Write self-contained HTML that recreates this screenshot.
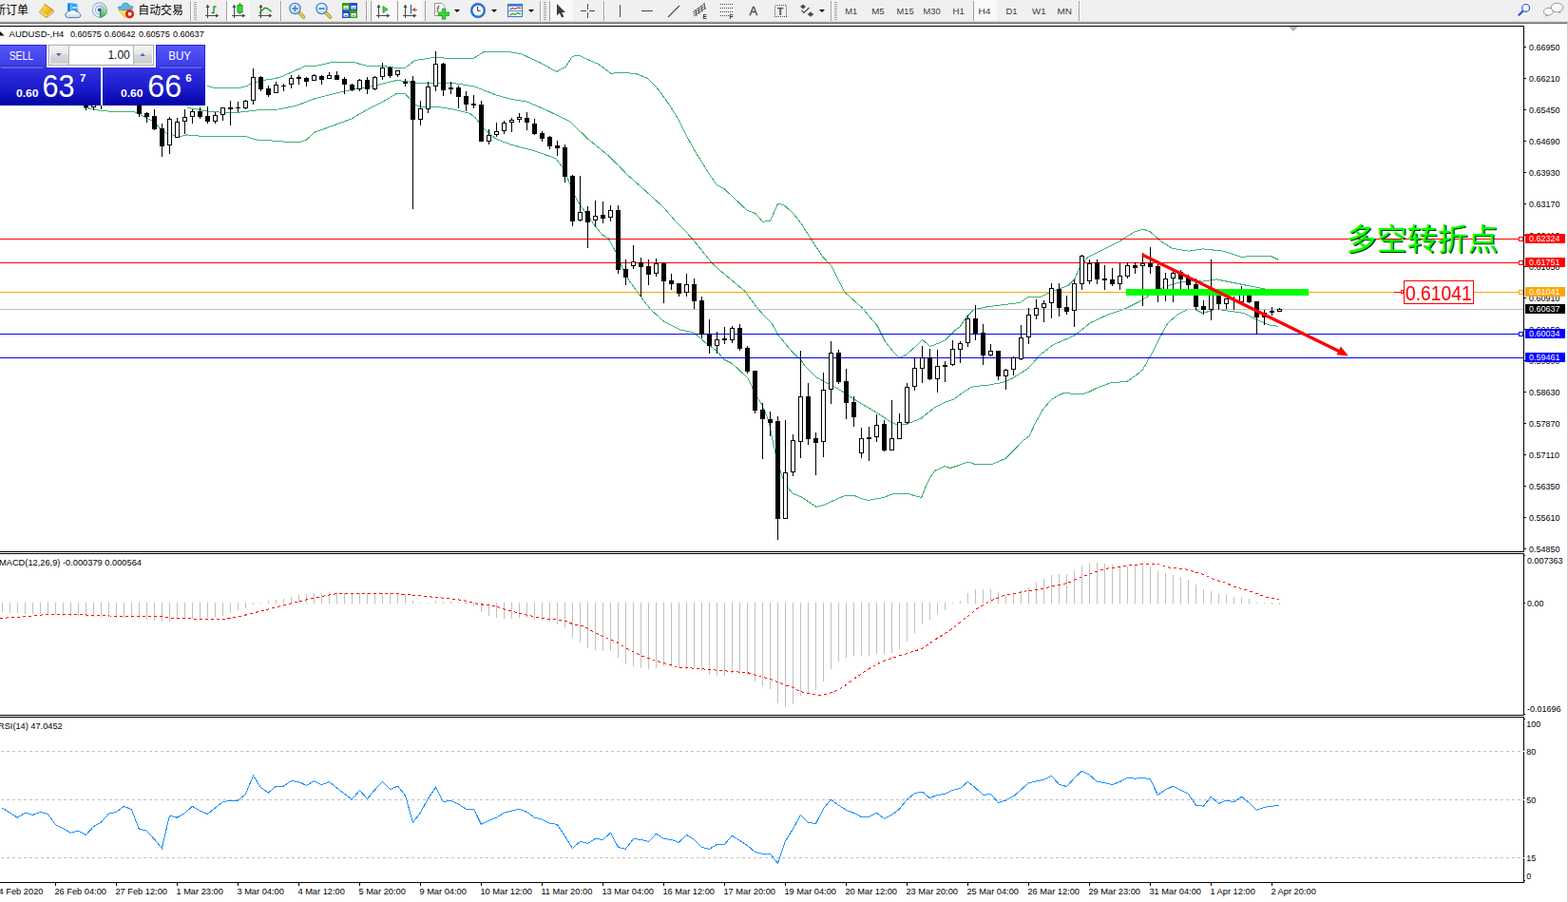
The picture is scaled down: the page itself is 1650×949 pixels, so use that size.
<!DOCTYPE html><html><head><meta charset="utf-8"><title>AUDUSD H4</title>
<style>html,body{margin:0;padding:0;background:#fff;}body{width:1650px;height:949px;overflow:hidden;font-family:"Liberation Sans", sans-serif;}svg{display:block;position:absolute;left:0;top:0}text{font-family:"Liberation Sans", sans-serif;}</style></head><body>
<svg width="1650" height="949" viewBox="0 0 1650 949">
<defs>
<linearGradient id="gSell" x1="0" y1="0" x2="0" y2="1"><stop offset="0" stop-color="#5656fb"/><stop offset="1" stop-color="#3a3ae6"/></linearGradient>
<linearGradient id="gPrice" x1="0" y1="0" x2="0" y2="1"><stop offset="0" stop-color="#3232e2"/><stop offset="0.55" stop-color="#1c1ccc"/><stop offset="1" stop-color="#0202a6"/></linearGradient>
<linearGradient id="gBtn" x1="0" y1="0" x2="0" y2="1"><stop offset="0" stop-color="#f4f4f4"/><stop offset="0.45" stop-color="#e6e6e6"/><stop offset="0.5" stop-color="#d6d6d6"/><stop offset="1" stop-color="#cdcdcd"/></linearGradient>
</defs>
<rect x="0" y="0" width="1650" height="949" fill="#ffffff"/>
<g>
<rect x="0" y="0" width="1650" height="22" fill="#f0f0f0"/>
<rect x="0" y="22" width="1650" height="1" fill="#dcdcdc"/><rect x="0" y="23" width="1650" height="1" fill="#a0a0a0"/><rect x="0" y="24" width="1650" height="1" fill="#6e6e6e"/>
<text x="-6" y="14.6" font-size="12px" fill="#000" style="font-family:'Liberation Sans','Noto Sans CJK SC',sans-serif" textLength="36" lengthAdjust="spacingAndGlyphs">新订单</text>
<text x="145.3" y="14.6" font-size="12px" fill="#000" style="font-family:'Liberation Sans','Noto Sans CJK SC',sans-serif" textLength="47.5" lengthAdjust="spacingAndGlyphs">自动交易</text>
<defs><linearGradient id="gGold" x1="0" y1="0" x2="1" y2="1"><stop offset="0" stop-color="#ffe566"/><stop offset="0.5" stop-color="#f2c21c"/><stop offset="1" stop-color="#dea414"/></linearGradient><linearGradient id="gBlue" x1="0" y1="0" x2="0" y2="1"><stop offset="0" stop-color="#5fb4ff"/><stop offset="1" stop-color="#1668d8"/></linearGradient><radialGradient id="gLens" cx="0.4" cy="0.35" r="0.7"><stop offset="0" stop-color="#f4fbff"/><stop offset="1" stop-color="#bcdcf4"/></radialGradient></defs>
<polygon points="47.2,3.9 56.3,10.5 56.9,13 48.8,18.9 40.9,13 45.6,7" fill="#c08414"/><polygon points="47.3,4.9 55.5,10.9 49.7,16.2 42.7,11.5" fill="url(#gGold)"/><polygon points="41.6,12.7 42.7,11.5 49.7,16.2 48.8,18" fill="#f6dc84"/><polygon points="49.7,16.2 55.5,10.9 56.2,12.7 49.5,18" fill="#e6d49a"/>
<polygon points="71.3,3.6 73.4,3.1 81.2,4.1 81.8,12 71.3,12" fill="#2aa8ff"/><polygon points="71.3,3.6 74.5,4.6 74.5,12 71.3,12" fill="#0a8cf0"/><rect x="74.4" y="4.6" width="0.7" height="7.4" fill="#e8f6ff"/><rect x="76" y="7.3" width="4.8" height="1.5" fill="#e4f4ff"/>
<defs><linearGradient id="gCloud" x1="0" y1="0" x2="0" y2="1"><stop offset="0.3" stop-color="#ffffff"/><stop offset="1" stop-color="#c4d0e6"/></linearGradient></defs><path d="M71.6,18.6 a2.9,2.9 0 0 1 -0.6,-5.7 a2.6,2.6 0 0 1 3.4,-1.3 a3.2,3.2 0 0 1 5.6,0.6 a2.6,2.6 0 0 1 3.4,1.8 a2.4,2.4 0 0 1 -0.8,4.6 z" fill="url(#gCloud)" stroke="#4a6cac" stroke-width="0.9"/>
<g fill="none" stroke-width="1.1"><circle cx="104.8" cy="10.5" r="7.6" stroke="#7f9ee0" opacity="0.75"/><circle cx="104.8" cy="10.5" r="4.4" stroke="#7f9ee0" opacity="0.8"/></g>
<defs><linearGradient id="gSig" x1="0" y1="0" x2="0" y2="1"><stop offset="0" stop-color="#b8e0b8" stop-opacity="0.25"/><stop offset="1" stop-color="#2f9e3a" stop-opacity="0.95"/></linearGradient></defs><path d="M105,10.5 L105,2.9 A7.7,7.7 0 0 1 105.6,18.6 Z" fill="url(#gSig)"/><circle cx="104.8" cy="10.5" r="1.9" fill="#2858d0"/><line x1="105.6" y1="11.2" x2="105.6" y2="18.8" stroke="#1fa01f" stroke-width="1.3"/>
<polygon points="124.4,10.2 139.6,9.6 132,18.9" fill="#f8e264" stroke="#d2a31c" stroke-width="0.7"/><path d="M124,8.2 q0.6,-1.9 3.8,-1.2 q0.6,-3.9 4.3,-3.9 q3.6,0 4.4,3.6 q3,-0.9 3.6,0.8 q-1.2,2.9 -8,3.1 q-6.6,0.2 -8.1,-2.4z" fill="#62b4e4" stroke="#2a86b8" stroke-width="0.7"/>
<circle cx="136.5" cy="14.8" r="4.1" fill="#e42408" stroke="#b01a06" stroke-width="0.7"/><rect x="134.9" y="13.1" width="3.3" height="3.3" fill="#fff"/>
<rect x="200" y="1" width="1" height="21" fill="#a0a0a0"/><rect x="201" y="1" width="1" height="21" fill="#ffffff"/>
<rect x="204" y="2" width="3" height="1" fill="#a8a8a8"/><rect x="204" y="4" width="3" height="1" fill="#a8a8a8"/><rect x="204" y="6" width="3" height="1" fill="#a8a8a8"/><rect x="204" y="8" width="3" height="1" fill="#a8a8a8"/><rect x="204" y="10" width="3" height="1" fill="#a8a8a8"/><rect x="204" y="12" width="3" height="1" fill="#a8a8a8"/><rect x="204" y="14" width="3" height="1" fill="#a8a8a8"/><rect x="204" y="16" width="3" height="1" fill="#a8a8a8"/><rect x="204" y="18" width="3" height="1" fill="#a8a8a8"/><rect x="204" y="20" width="3" height="1" fill="#a8a8a8"/>
<g stroke="#4a4a4a" stroke-width="1" fill="#4a4a4a" shape-rendering="crispEdges"><line x1="218.5" y1="6" x2="218.5" y2="19"/><line x1="216.0" y1="16.5" x2="229.0" y2="16.5"/></g><polygon points="218.5,4.5 216.5,8 220.5,8" fill="#4a4a4a"/><polygon points="230.5,16.5 227.0,14.5 227.0,18.5" fill="#4a4a4a"/>
<g stroke="#149414" stroke-width="1.4" fill="none"><line x1="225" y1="6.5" x2="225" y2="14"/><line x1="225" y1="7" x2="227.5" y2="7"/><line x1="222.5" y1="13.5" x2="225" y2="13.5"/></g>
<rect x="239" y="0" width="24" height="22" fill="#f9f9f9"/><rect x="238" y="1" width="1" height="21" fill="#a0a0a0"/>
<g stroke="#4a4a4a" stroke-width="1" fill="#4a4a4a" shape-rendering="crispEdges"><line x1="246.5" y1="6" x2="246.5" y2="19"/><line x1="244.0" y1="16.5" x2="257.0" y2="16.5"/></g><polygon points="246.5,4.5 244.5,8 248.5,8" fill="#4a4a4a"/><polygon points="258.5,16.5 255.0,14.5 255.0,18.5" fill="#4a4a4a"/>
<line x1="252.5" y1="3" x2="252.5" y2="15" stroke="#0f8f0f" stroke-width="1.2"/><rect x="250" y="5.5" width="5" height="7.5" fill="#3be03b" stroke="#0f8f0f" stroke-width="0.9"/>
<g stroke="#4a4a4a" stroke-width="1" fill="#4a4a4a" shape-rendering="crispEdges"><line x1="274.5" y1="6" x2="274.5" y2="19"/><line x1="272.0" y1="16.5" x2="285.0" y2="16.5"/></g><polygon points="274.5,4.5 272.5,8 276.5,8" fill="#4a4a4a"/><polygon points="286.5,16.5 283.0,14.5 283.0,18.5" fill="#4a4a4a"/>
<polyline points="273,14 276,10.5 279,8.3 281.5,8.8 285.5,12.2" fill="none" stroke="#149414" stroke-width="1.3"/>
<rect x="295" y="1" width="1" height="21" fill="#a0a0a0"/><rect x="296" y="1" width="1" height="21" fill="#ffffff"/>
<line x1="315.0" y1="13.5" x2="319.5" y2="18" stroke="#a88418" stroke-width="3.6" stroke-linecap="round"/><line x1="315.0" y1="13.5" x2="319.5" y2="18" stroke="#ecd050" stroke-width="2" stroke-linecap="round"/>
<circle cx="310.5" cy="9" r="5.6" fill="url(#gLens)" stroke="#3f86d2" stroke-width="1.3"/>
<rect x="307.3" y="8.2" width="6.4" height="1.7" fill="#4f80b4"/>
<rect x="309.6" y="5.8" width="1.7" height="6.4" fill="#4f80b4"/>
<line x1="343.0" y1="13.5" x2="347.5" y2="18" stroke="#a88418" stroke-width="3.6" stroke-linecap="round"/><line x1="343.0" y1="13.5" x2="347.5" y2="18" stroke="#ecd050" stroke-width="2" stroke-linecap="round"/>
<circle cx="338.5" cy="9" r="5.6" fill="url(#gLens)" stroke="#3f86d2" stroke-width="1.3"/>
<rect x="335.3" y="8.2" width="6.4" height="1.7" fill="#4f80b4"/>
<rect x="360" y="3" width="8" height="8" fill="#3c9e1e"/><rect x="361.5" y="6.0" width="5" height="3.6" fill="#f2f6ff"/><rect x="362.7" y="7.9" width="2.6" height="0.9" fill="#3c9e1e"/>
<rect x="368" y="3" width="8" height="8" fill="#1f4fd0"/><rect x="369.5" y="6.0" width="5" height="3.6" fill="#f2f6ff"/><rect x="370.7" y="7.9" width="2.6" height="0.9" fill="#1f4fd0"/>
<rect x="360" y="11" width="8" height="8" fill="#1f4fd0"/><rect x="361.5" y="14.0" width="5" height="3.6" fill="#f2f6ff"/><rect x="362.7" y="15.9" width="2.6" height="0.9" fill="#1f4fd0"/>
<rect x="368" y="11" width="8" height="8" fill="#3c9e1e"/><rect x="369.5" y="14.0" width="5" height="3.6" fill="#f2f6ff"/><rect x="370.7" y="15.9" width="2.6" height="0.9" fill="#3c9e1e"/>
<rect x="385" y="1" width="1" height="21" fill="#a0a0a0"/><rect x="386" y="1" width="1" height="21" fill="#ffffff"/>
<rect x="391" y="0" width="26" height="22" fill="#f9f9f9"/><rect x="390" y="1" width="1" height="21" fill="#a0a0a0"/>
<rect x="419" y="0" width="25" height="22" fill="#f9f9f9"/><rect x="418" y="1" width="1" height="21" fill="#a0a0a0"/>
<g stroke="#4a4a4a" stroke-width="1" fill="#4a4a4a" shape-rendering="crispEdges"><line x1="398.5" y1="6" x2="398.5" y2="19"/><line x1="396.0" y1="16.5" x2="409.0" y2="16.5"/></g><polygon points="398.5,4.5 396.5,8 400.5,8" fill="#4a4a4a"/><polygon points="410.5,16.5 407.0,14.5 407.0,18.5" fill="#4a4a4a"/>
<polygon points="403,6.5 403,13.5 408,10" fill="#3bd83b" stroke="#149414" stroke-width="0.7"/>
<g stroke="#4a4a4a" stroke-width="1" fill="#4a4a4a" shape-rendering="crispEdges"><line x1="426.5" y1="6" x2="426.5" y2="19"/><line x1="424.0" y1="16.5" x2="437.0" y2="16.5"/></g><polygon points="426.5,4.5 424.5,8 428.5,8" fill="#4a4a4a"/><polygon points="438.5,16.5 435.0,14.5 435.0,18.5" fill="#4a4a4a"/>
<line x1="432.5" y1="5" x2="432.5" y2="14.5" stroke="#1a6aa6" stroke-width="1.3"/><polygon points="433.5,10.3 437,8 437,12.6" fill="#e0481a"/><line x1="436" y1="10.3" x2="439" y2="10.3" stroke="#e0481a" stroke-width="1.1"/>
<rect x="447" y="1" width="1" height="21" fill="#a0a0a0"/><rect x="448" y="1" width="1" height="21" fill="#ffffff"/>
<path d="M457.5,3.5 h7.5 l3,3 v10 h-10.5z" fill="#fdfdfd" stroke="#8a8a8a" stroke-width="0.9"/><text x="459.2" y="12.8" font-size="9px" font-family="Liberation Serif, serif" font-style="italic" fill="#222">f</text>
<path d="M465.2,9.3 h3.6 v3.6 h3.8 v3.6 h-3.8 v3.7 h-3.6 v-3.7 h-3.9 v-3.6 h3.9z" fill="#36d836" stroke="#12921a" stroke-width="0.7"/>
<polygon points="478,10 484,10 481.0,13" fill="#000"/>
<circle cx="503" cy="11" r="6.7" fill="#f4f8fd" stroke="#1f6fdc" stroke-width="2.2"/><circle cx="503" cy="11" r="7.8" fill="none" stroke="#1a58b4" stroke-width="0.4"/><polyline points="502.6,7 502.6,11.3 505.6,11.3" fill="none" stroke="#333" stroke-width="1"/>
<polygon points="517,10 523,10 520.0,13" fill="#000"/>
<rect x="534.5" y="4.5" width="15" height="13" fill="#f6faff" stroke="#3a7ad0" stroke-width="1.1"/><rect x="534.5" y="4.5" width="15" height="2.2" fill="#3a7ad0"/><line x1="535" y1="11.5" x2="549" y2="11.5" stroke="#3a7ad0" stroke-width="0.8"/>
<polyline points="536.5,10 539.5,8.6 542,9.4 545,8 548,8.6" fill="none" stroke="#b0301a" stroke-width="1.1"/><polyline points="536.5,16 539.5,14.4 542,15.4 545,13.4 548,15" fill="none" stroke="#1f9a1f" stroke-width="1.1"/>
<polygon points="556,10 562,10 559.0,13" fill="#000"/>
<rect x="568" y="1" width="1" height="21" fill="#a0a0a0"/><rect x="569" y="1" width="1" height="21" fill="#ffffff"/>
<rect x="572" y="2" width="3" height="1" fill="#a8a8a8"/><rect x="572" y="4" width="3" height="1" fill="#a8a8a8"/><rect x="572" y="6" width="3" height="1" fill="#a8a8a8"/><rect x="572" y="8" width="3" height="1" fill="#a8a8a8"/><rect x="572" y="10" width="3" height="1" fill="#a8a8a8"/><rect x="572" y="12" width="3" height="1" fill="#a8a8a8"/><rect x="572" y="14" width="3" height="1" fill="#a8a8a8"/><rect x="572" y="16" width="3" height="1" fill="#a8a8a8"/><rect x="572" y="18" width="3" height="1" fill="#a8a8a8"/><rect x="572" y="20" width="3" height="1" fill="#a8a8a8"/>
<rect x="579" y="0" width="24" height="22" fill="#f9f9f9"/><rect x="578" y="1" width="1" height="21" fill="#a0a0a0"/>
<polygon points="586,4 586,16.3 588.8,13.8 591.2,18.6 593.4,17.6 591.1,12.9 595,12.9" fill="#3c3c3c"/>
<g stroke="#4a4a4a" stroke-width="1" shape-rendering="crispEdges"><line x1="618.5" y1="4" x2="618.5" y2="10"/><line x1="618.5" y1="13" x2="618.5" y2="19"/><line x1="611" y1="11.5" x2="617" y2="11.5"/><line x1="620" y1="11.5" x2="626" y2="11.5"/></g>
<rect x="635" y="1" width="1" height="21" fill="#a0a0a0"/><rect x="636" y="1" width="1" height="21" fill="#ffffff"/>
<g stroke="#4a4a4a" stroke-width="1.1"><line x1="652.5" y1="5" x2="652.5" y2="18" shape-rendering="crispEdges"/><line x1="675" y1="11.5" x2="687" y2="11.5" shape-rendering="crispEdges"/><line x1="703" y1="18" x2="715" y2="6"/></g>
<g stroke="#4a4a4a" stroke-width="0.9"><line x1="729" y1="13" x2="741" y2="4"/><line x1="730" y1="17" x2="743" y2="8"/><line x1="729.5" y1="15" x2="742" y2="6"/><line x1="732" y1="10" x2="733" y2="17"/><line x1="735" y1="8" x2="736" y2="15"/><line x1="738" y1="6" x2="739" y2="12.5"/><line x1="741" y1="3" x2="742" y2="10"/></g>
<text x="739.6" y="20" font-size="6.5px" font-weight="bold" fill="#333">E</text>
<g stroke="#4a4a4a" stroke-width="1" stroke-dasharray="1,1" shape-rendering="crispEdges"><line x1="758" y1="4.5" x2="771" y2="4.5"/><line x1="758" y1="8.5" x2="771" y2="8.5"/><line x1="758" y1="12.5" x2="771" y2="12.5"/><line x1="758" y1="16.5" x2="767" y2="16.5"/></g>
<text x="767.6" y="20" font-size="6.5px" font-weight="bold" fill="#333">F</text>
<text x="788.6" y="16" font-size="13px" fill="#4a4a4a" stroke="#4a4a4a" stroke-width="0.35" textLength="8.6" lengthAdjust="spacingAndGlyphs">A</text>
<rect x="815.5" y="5.5" width="12" height="12" fill="none" stroke="#4a4a4a" stroke-width="1" stroke-dasharray="1,1" shape-rendering="crispEdges"/><text x="817.7" y="15.6" font-size="11px" font-weight="bold" fill="#505050">T</text>
<polygon points="845,4.5 848,7 845,9.5 842,7" fill="#4a4a4a"/><polygon points="853,12.5 856.3,15 853,17.8 849.7,15" fill="#4a4a4a"/><polyline points="843.5,11 846,13.5 851.5,8" fill="none" stroke="#4a4a4a" stroke-width="1.2"/>
<polygon points="862,10 868,10 865.0,13" fill="#000"/>
<rect x="874" y="1" width="1" height="21" fill="#a0a0a0"/><rect x="875" y="1" width="1" height="21" fill="#ffffff"/>
<rect x="878" y="2" width="3" height="1" fill="#a8a8a8"/><rect x="878" y="4" width="3" height="1" fill="#a8a8a8"/><rect x="878" y="6" width="3" height="1" fill="#a8a8a8"/><rect x="878" y="8" width="3" height="1" fill="#a8a8a8"/><rect x="878" y="10" width="3" height="1" fill="#a8a8a8"/><rect x="878" y="12" width="3" height="1" fill="#a8a8a8"/><rect x="878" y="14" width="3" height="1" fill="#a8a8a8"/><rect x="878" y="16" width="3" height="1" fill="#a8a8a8"/><rect x="878" y="18" width="3" height="1" fill="#a8a8a8"/><rect x="878" y="20" width="3" height="1" fill="#a8a8a8"/>
<rect x="1025" y="0" width="24" height="22" fill="#f9f9f9"/><rect x="1024" y="1" width="1" height="21" fill="#a0a0a0"/>
<text x="889.2" y="15" font-size="9.6px" fill="#3c3c3c" textLength="13.0" lengthAdjust="spacingAndGlyphs">M1</text>
<text x="917.3" y="15" font-size="9.6px" fill="#3c3c3c" textLength="13.4" lengthAdjust="spacingAndGlyphs">M5</text>
<text x="943.5" y="15" font-size="9.6px" fill="#3c3c3c" textLength="18.1" lengthAdjust="spacingAndGlyphs">M15</text>
<text x="971.5" y="15" font-size="9.6px" fill="#3c3c3c" textLength="18.1" lengthAdjust="spacingAndGlyphs">M30</text>
<text x="1002.4" y="15" font-size="9.6px" fill="#3c3c3c" textLength="12.4" lengthAdjust="spacingAndGlyphs">H1</text>
<text x="1029.4" y="15" font-size="9.6px" fill="#3c3c3c" textLength="13.0" lengthAdjust="spacingAndGlyphs">H4</text>
<text x="1058.5" y="15" font-size="9.6px" fill="#3c3c3c" textLength="12.1" lengthAdjust="spacingAndGlyphs">D1</text>
<text x="1086.0" y="15" font-size="9.6px" fill="#3c3c3c" textLength="14.6" lengthAdjust="spacingAndGlyphs">W1</text>
<text x="1112.5" y="15" font-size="9.6px" fill="#3c3c3c" textLength="15.5" lengthAdjust="spacingAndGlyphs">MN</text>
<rect x="1135" y="1" width="1" height="21" fill="#a0a0a0"/><rect x="1136" y="1" width="1" height="21" fill="#ffffff"/>
<line x1="1602.6" y1="11.6" x2="1598.4" y2="15.8" stroke="#2a5ad0" stroke-width="2.2" stroke-linecap="round"/><circle cx="1605.6" cy="8.4" r="3.9" fill="#f6f8ff" stroke="#2a5ad0" stroke-width="1.2"/>
<ellipse cx="1638.5" cy="8" rx="6.4" ry="4.8" fill="#f7f7fa" stroke="#8e8e8e" stroke-width="0.9"/><polygon points="1639.5,12 1642,14.5 1642,12" fill="#8a8a8a"/>
<ellipse cx="1629.3" cy="12.3" rx="4.9" ry="3.9" fill="#f7f7fa" stroke="#8e8e8e" stroke-width="0.9"/><polygon points="1626.5,15.5 1626.3,17.8 1629,15.8" fill="#8a8a8a"/>
</g>
<g shape-rendering="crispEdges">
<rect x="0" y="27" width="1604" height="1" fill="#000"/>
<rect x="1603" y="27" width="1" height="902" fill="#000"/>
<rect x="0" y="580" width="1604" height="1" fill="#000"/>
<rect x="1603" y="581" width="1" height="1" fill="#fff"/>
<rect x="0" y="582" width="1604" height="1" fill="#000"/>
<rect x="0" y="752" width="1604" height="1" fill="#000"/>
<rect x="1603" y="753" width="1" height="1" fill="#fff"/>
<rect x="0" y="754" width="1604" height="1" fill="#000"/>
<rect x="0" y="928" width="1604" height="1" fill="#000"/>
<rect x="1649" y="24" width="1" height="925" fill="#c9d2dc"/>
<rect x="1604" y="49" width="2" height="1" fill="#000"/>
<rect x="1604" y="82" width="2" height="1" fill="#000"/>
<rect x="1604" y="115" width="2" height="1" fill="#000"/>
<rect x="1604" y="148" width="2" height="1" fill="#000"/>
<rect x="1604" y="181" width="2" height="1" fill="#000"/>
<rect x="1604" y="214" width="2" height="1" fill="#000"/>
<rect x="1604" y="247" width="2" height="1" fill="#000"/>
<rect x="1604" y="280" width="2" height="1" fill="#000"/>
<rect x="1604" y="313" width="2" height="1" fill="#000"/>
<rect x="1604" y="346" width="2" height="1" fill="#000"/>
<rect x="1604" y="379" width="2" height="1" fill="#000"/>
<rect x="1604" y="412" width="2" height="1" fill="#000"/>
<rect x="1604" y="445" width="2" height="1" fill="#000"/>
<rect x="1604" y="478" width="2" height="1" fill="#000"/>
<rect x="1604" y="511" width="2" height="1" fill="#000"/>
<rect x="1604" y="544" width="2" height="1" fill="#000"/>
<rect x="1604" y="577" width="2" height="1" fill="#000"/>
<rect x="1604" y="584" width="1" height="1" fill="#000"/>
<rect x="1604" y="634" width="1" height="1" fill="#000"/>
<rect x="1604" y="751" width="1" height="1" fill="#000"/>
<rect x="1604" y="756" width="1" height="1" fill="#000"/>
<rect x="1604" y="926" width="1" height="1" fill="#000"/>
<rect x="58" y="929" width="1" height="3" fill="#000"/>
<rect x="122" y="929" width="1" height="3" fill="#000"/>
<rect x="186" y="929" width="1" height="3" fill="#000"/>
<rect x="250" y="929" width="1" height="3" fill="#000"/>
<rect x="314" y="929" width="1" height="3" fill="#000"/>
<rect x="378" y="929" width="1" height="3" fill="#000"/>
<rect x="442" y="929" width="1" height="3" fill="#000"/>
<rect x="506" y="929" width="1" height="3" fill="#000"/>
<rect x="570" y="929" width="1" height="3" fill="#000"/>
<rect x="634" y="929" width="1" height="3" fill="#000"/>
<rect x="698" y="929" width="1" height="3" fill="#000"/>
<rect x="762" y="929" width="1" height="3" fill="#000"/>
<rect x="826" y="929" width="1" height="3" fill="#000"/>
<rect x="890" y="929" width="1" height="3" fill="#000"/>
<rect x="954" y="929" width="1" height="3" fill="#000"/>
<rect x="1018" y="929" width="1" height="3" fill="#000"/>
<rect x="1082" y="929" width="1" height="3" fill="#000"/>
<rect x="1146" y="929" width="1" height="3" fill="#000"/>
<rect x="1210" y="929" width="1" height="3" fill="#000"/>
<rect x="1274" y="929" width="1" height="3" fill="#000"/>
<rect x="1338" y="929" width="1" height="3" fill="#000"/>
</g>
<g fill="none" stroke="#3cb371" stroke-width="1" shape-rendering="crispEdges">
<polyline points="218.0,90.4 226.4,92.6 253.0,92.4 260.7,90.1 264.6,87.5 277.3,84.4 290.0,82.5 297.8,80.0 322.0,69.2 331.0,69.8 350.0,65.4 371.6,65.4 385.6,69.2 402.0,69.4 417.5,71.5 426.4,71.5 436.6,63.5 458.0,60.3 471.0,61.3 498.4,61.4 508.5,55.0 513.6,54.1 534.0,54.3 548.5,56.7 568.9,66.2 580.5,72.7 585.9,75.3 595.0,70.5 602.4,59.2 609.6,58.2 618.4,62.5 630.0,67.6 643.0,77.4 651.8,76.1 669.3,77.5 681.0,82.2 692.5,93.8 704.2,110.0 712.7,123.6 720.0,138.0 730.0,157.0 741.3,175.0 745.6,182.3 754.4,194.6 761.6,198.3 771.8,207.7 786.4,221.5 795.0,224.5 802.4,233.2 810.4,232.5 818.5,214.5 824.7,215.5 835.0,224.8 843.0,235.0 853.4,251.5 865.7,270.0 875.0,280.3 888.4,307.0 906.8,323.4 923.3,343.0 931.5,359.4 939.7,369.6 946.3,376.2 953.0,373.8 962.3,365.5 970.5,357.3 978.8,364.5 987.0,361.4 995.2,357.3 1005.5,347.0 1010.0,344.0 1017.8,332.4 1025.0,325.8 1038.0,322.9 1055.6,320.7 1073.0,318.5 1081.8,312.7 1096.4,312.0 1105.0,307.6 1124.0,300.4 1131.3,293.1 1134.5,284.5 1144.7,270.6 1160.7,262.6 1178.2,253.9 1192.7,244.5 1203.0,241.1 1210.2,243.7 1221.8,253.9 1233.5,261.2 1251.0,264.1 1265.5,261.9 1287.3,264.1 1306.2,270.3 1323.6,269.2 1338.2,269.9 1345.5,273.5"/>
<polyline points="197.0,113.4 207.0,114.9 220.0,117.5 245.5,118.7 258.0,117.5 271.0,115.9 280.0,115.6 292.7,115.0 311.8,111.2 331.0,103.8 362.7,95.9 394.5,90.2 417.5,84.5 426.4,85.5 436.5,87.0 450.5,87.6 470.0,87.3 480.0,88.0 499.0,90.9 522.0,100.0 538.0,104.4 554.0,106.9 573.0,114.9 599.0,127.3 619.6,146.9 640.0,163.6 651.8,175.0 659.8,183.7 677.3,199.0 698.0,218.0 710.7,232.5 728.2,250.6 748.5,276.1 758.2,285.0 770.5,295.2 783.6,306.1 798.2,325.7 812.7,341.0 818.5,351.9 833.0,369.4 843.3,379.5 846.9,385.0 858.5,396.6 870.2,403.2 881.8,409.0 896.4,418.5 910.9,427.2 925.5,435.9 937.0,443.9 944.4,446.8 954.5,446.1 969.0,440.3 983.6,428.6 995.3,422.8 1004.0,419.9 1013.7,412.7 1021.1,407.9 1025.5,406.4 1038.0,405.5 1055.3,402.4 1065.5,398.0 1081.8,387.6 1095.0,373.0 1108.0,362.9 1131.3,352.7 1147.3,339.6 1166.2,330.9 1183.6,325.0 1198.0,317.8 1209.8,310.5 1224.7,301.9 1236.4,298.3 1251.0,295.4 1265.5,296.1 1280.0,293.9 1294.5,296.8 1309.0,299.7 1328.0,303.4 1345.0,307.0"/>
<polyline points="88.0,113.0 105.5,116.2 119.0,117.5 141.0,117.5 145.5,119.6 151.0,122.5 161.5,127.6 167.8,134.6 176.7,141.0 189.5,143.5 197.0,141.9 215.0,143.5 258.0,143.5 271.0,147.4 280.0,147.5 303.0,149.4 315.6,149.4 322.0,147.5 331.0,139.2 369.0,125.4 388.0,114.4 402.0,107.4 417.5,98.5 426.4,98.5 436.5,109.9 443.0,112.5 460.7,112.5 477.3,115.0 494.5,119.3 500.0,123.6 509.0,135.3 522.0,146.2 538.0,152.3 561.5,158.5 584.7,166.5 592.0,176.0 596.5,185.9 607.5,211.4 625.0,236.1 633.6,247.0 640.0,250.6 648.0,265.2 658.4,289.9 674.5,312.6 684.7,325.7 699.3,338.8 715.3,346.8 729.8,349.7 741.5,359.9 754.5,369.4 761.8,378.1 770.5,382.5 782.2,393.4 787.3,398.1 794.5,414.1 801.8,425.7 809.0,443.2 815.6,475.2 821.2,496.0 823.6,502.7 828.5,512.4 834.0,519.1 843.0,522.7 858.8,533.3 867.3,531.2 880.6,525.2 889.0,521.5 899.4,521.5 906.0,524.5 914.0,526.4 930.3,523.3 937.6,520.3 943.6,519.1 955.8,519.1 961.8,521.5 969.7,523.3 974.0,512.4 978.8,502.1 983.6,495.5 993.8,490.5 1000.0,492.5 1008.7,489.6 1018.9,486.0 1026.2,488.6 1043.6,488.6 1058.2,482.4 1069.8,470.7 1075.6,464.2 1082.9,459.1 1090.2,443.8 1097.5,430.7 1106.2,420.5 1116.4,414.4 1122.2,413.3 1128.0,414.4 1139.6,414.4 1145.5,412.5 1154.2,408.2 1168.7,402.8 1186.2,401.3 1195.0,395.1 1202.5,389.0 1212.5,371.0 1221.8,352.8 1229.0,339.7 1239.3,331.0 1251.0,325.2 1258.2,325.9 1265.5,329.5 1280.0,325.2 1294.5,327.4 1309.0,329.5 1323.6,336.8 1335.3,341.9 1345.5,343.4"/>
</g>
<g shape-rendering="crispEdges">
<rect x="0" y="251" width="1603" height="1" fill="#ff0000"/>
<rect x="0" y="276" width="1603" height="1" fill="#ff0000"/>
<rect x="0" y="307" width="1603" height="1" fill="#ffa500"/>
<rect x="0" y="325" width="1603" height="1" fill="#c0c0c0"/>
<rect x="0" y="351" width="1603" height="1" fill="#0000ff"/>
<rect x="0" y="376" width="1603" height="1" fill="#0000ff"/>
<rect x="90" y="105" width="1" height="11" fill="#000"/>
<rect x="88" y="105" width="5" height="8" fill="#000"/>
<rect x="98" y="106" width="1" height="10" fill="#000"/>
<rect x="96" y="108" width="5" height="5" fill="#000"/>
<rect x="97" y="109" width="3" height="3" fill="#fff"/>
<rect x="106" y="104" width="1" height="11" fill="#000"/>
<rect x="104" y="106" width="5" height="4" fill="#000"/>
<rect x="146" y="108" width="1" height="15" fill="#000"/>
<rect x="144" y="108" width="5" height="12" fill="#000"/>
<rect x="154" y="118" width="1" height="11" fill="#000"/>
<rect x="152" y="119" width="5" height="4" fill="#000"/>
<rect x="162" y="115" width="1" height="22" fill="#000"/>
<rect x="160" y="122" width="5" height="14" fill="#000"/>
<rect x="170" y="130" width="1" height="35" fill="#000"/>
<rect x="168" y="135" width="5" height="19" fill="#000"/>
<rect x="178" y="123" width="1" height="39" fill="#000"/>
<rect x="176" y="125" width="5" height="28" fill="#000"/>
<rect x="177" y="126" width="3" height="26" fill="#fff"/>
<rect x="186" y="124" width="1" height="21" fill="#000"/>
<rect x="184" y="128" width="5" height="17" fill="#000"/>
<rect x="185" y="129" width="3" height="15" fill="#fff"/>
<rect x="194" y="115" width="1" height="26" fill="#000"/>
<rect x="192" y="123" width="5" height="5" fill="#000"/>
<rect x="193" y="124" width="3" height="3" fill="#fff"/>
<rect x="202" y="115" width="1" height="15" fill="#000"/>
<rect x="200" y="117" width="5" height="6" fill="#000"/>
<rect x="201" y="118" width="3" height="4" fill="#fff"/>
<rect x="210" y="113" width="1" height="12" fill="#000"/>
<rect x="208" y="117" width="5" height="6" fill="#000"/>
<rect x="218" y="112" width="1" height="18" fill="#000"/>
<rect x="216" y="122" width="5" height="6" fill="#000"/>
<rect x="226" y="118" width="1" height="12" fill="#000"/>
<rect x="224" y="121" width="5" height="7" fill="#000"/>
<rect x="225" y="122" width="3" height="5" fill="#fff"/>
<rect x="234" y="113" width="1" height="14" fill="#000"/>
<rect x="232" y="113" width="5" height="8" fill="#000"/>
<rect x="233" y="114" width="3" height="6" fill="#fff"/>
<rect x="242" y="106" width="1" height="26" fill="#000"/>
<rect x="240" y="113" width="5" height="2" fill="#000"/>
<rect x="250" y="107" width="1" height="11" fill="#000"/>
<rect x="248" y="113" width="5" height="1" fill="#000"/>
<rect x="258" y="105" width="1" height="10" fill="#000"/>
<rect x="256" y="106" width="5" height="8" fill="#000"/>
<rect x="257" y="107" width="3" height="6" fill="#fff"/>
<rect x="266" y="72" width="1" height="38" fill="#000"/>
<rect x="264" y="81" width="5" height="25" fill="#000"/>
<rect x="265" y="82" width="3" height="23" fill="#fff"/>
<rect x="274" y="80" width="1" height="16" fill="#000"/>
<rect x="272" y="81" width="5" height="13" fill="#000"/>
<rect x="282" y="90" width="1" height="12" fill="#000"/>
<rect x="280" y="93" width="5" height="7" fill="#000"/>
<rect x="290" y="86" width="1" height="12" fill="#000"/>
<rect x="288" y="89" width="5" height="9" fill="#000"/>
<rect x="289" y="90" width="3" height="7" fill="#fff"/>
<rect x="298" y="88" width="1" height="8" fill="#000"/>
<rect x="296" y="90" width="5" height="1" fill="#000"/>
<rect x="306" y="79" width="1" height="14" fill="#000"/>
<rect x="304" y="82" width="5" height="7" fill="#000"/>
<rect x="305" y="83" width="3" height="5" fill="#fff"/>
<rect x="314" y="79" width="1" height="10" fill="#000"/>
<rect x="312" y="81" width="5" height="2" fill="#000"/>
<rect x="322" y="81" width="1" height="10" fill="#000"/>
<rect x="320" y="82" width="5" height="4" fill="#000"/>
<rect x="330" y="78" width="1" height="7" fill="#000"/>
<rect x="328" y="79" width="5" height="6" fill="#000"/>
<rect x="329" y="80" width="3" height="4" fill="#fff"/>
<rect x="338" y="79" width="1" height="10" fill="#000"/>
<rect x="336" y="80" width="5" height="4" fill="#000"/>
<rect x="346" y="76" width="1" height="7" fill="#000"/>
<rect x="344" y="79" width="5" height="4" fill="#000"/>
<rect x="345" y="80" width="3" height="2" fill="#fff"/>
<rect x="354" y="75" width="1" height="9" fill="#000"/>
<rect x="352" y="79" width="5" height="5" fill="#000"/>
<rect x="362" y="81" width="1" height="18" fill="#000"/>
<rect x="360" y="83" width="5" height="6" fill="#000"/>
<rect x="370" y="88" width="1" height="8" fill="#000"/>
<rect x="368" y="89" width="5" height="6" fill="#000"/>
<rect x="378" y="83" width="1" height="13" fill="#000"/>
<rect x="376" y="84" width="5" height="10" fill="#000"/>
<rect x="377" y="85" width="3" height="8" fill="#fff"/>
<rect x="386" y="81" width="1" height="18" fill="#000"/>
<rect x="384" y="84" width="5" height="10" fill="#000"/>
<rect x="394" y="80" width="1" height="15" fill="#000"/>
<rect x="392" y="81" width="5" height="13" fill="#000"/>
<rect x="393" y="82" width="3" height="11" fill="#fff"/>
<rect x="402" y="66" width="1" height="18" fill="#000"/>
<rect x="400" y="71" width="5" height="10" fill="#000"/>
<rect x="401" y="72" width="3" height="8" fill="#fff"/>
<rect x="410" y="70" width="1" height="12" fill="#000"/>
<rect x="408" y="71" width="5" height="9" fill="#000"/>
<rect x="418" y="74" width="1" height="7" fill="#000"/>
<rect x="416" y="74" width="5" height="5" fill="#000"/>
<rect x="417" y="75" width="3" height="3" fill="#fff"/>
<rect x="426" y="83" width="1" height="8" fill="#000"/>
<rect x="424" y="86" width="5" height="2" fill="#000"/>
<rect x="434" y="80" width="1" height="140" fill="#000"/>
<rect x="432" y="85" width="5" height="41" fill="#000"/>
<rect x="442" y="106" width="1" height="26" fill="#000"/>
<rect x="440" y="114" width="5" height="12" fill="#000"/>
<rect x="441" y="115" width="3" height="10" fill="#fff"/>
<rect x="450" y="86" width="1" height="33" fill="#000"/>
<rect x="448" y="91" width="5" height="24" fill="#000"/>
<rect x="449" y="92" width="3" height="22" fill="#fff"/>
<rect x="458" y="54" width="1" height="42" fill="#000"/>
<rect x="456" y="67" width="5" height="24" fill="#000"/>
<rect x="457" y="68" width="3" height="22" fill="#fff"/>
<rect x="466" y="66" width="1" height="35" fill="#000"/>
<rect x="464" y="67" width="5" height="28" fill="#000"/>
<rect x="474" y="86" width="1" height="13" fill="#000"/>
<rect x="472" y="92" width="5" height="2" fill="#000"/>
<rect x="482" y="90" width="1" height="24" fill="#000"/>
<rect x="480" y="92" width="5" height="10" fill="#000"/>
<rect x="490" y="96" width="1" height="21" fill="#000"/>
<rect x="488" y="101" width="5" height="9" fill="#000"/>
<rect x="498" y="100" width="1" height="14" fill="#000"/>
<rect x="496" y="109" width="5" height="2" fill="#000"/>
<rect x="506" y="106" width="1" height="43" fill="#000"/>
<rect x="504" y="110" width="5" height="39" fill="#000"/>
<rect x="514" y="136" width="1" height="16" fill="#000"/>
<rect x="512" y="142" width="5" height="7" fill="#000"/>
<rect x="513" y="143" width="3" height="5" fill="#fff"/>
<rect x="522" y="129" width="1" height="15" fill="#000"/>
<rect x="520" y="138" width="5" height="4" fill="#000"/>
<rect x="521" y="139" width="3" height="2" fill="#fff"/>
<rect x="530" y="127" width="1" height="14" fill="#000"/>
<rect x="528" y="129" width="5" height="9" fill="#000"/>
<rect x="529" y="130" width="3" height="7" fill="#fff"/>
<rect x="538" y="124" width="1" height="15" fill="#000"/>
<rect x="536" y="126" width="5" height="3" fill="#000"/>
<rect x="537" y="127" width="3" height="1" fill="#fff"/>
<rect x="546" y="119" width="1" height="10" fill="#000"/>
<rect x="544" y="123" width="5" height="3" fill="#000"/>
<rect x="545" y="124" width="3" height="1" fill="#fff"/>
<rect x="554" y="118" width="1" height="19" fill="#000"/>
<rect x="552" y="124" width="5" height="5" fill="#000"/>
<rect x="562" y="125" width="1" height="17" fill="#000"/>
<rect x="560" y="130" width="5" height="11" fill="#000"/>
<rect x="570" y="138" width="1" height="11" fill="#000"/>
<rect x="568" y="140" width="5" height="6" fill="#000"/>
<rect x="578" y="143" width="1" height="14" fill="#000"/>
<rect x="576" y="144" width="5" height="10" fill="#000"/>
<rect x="586" y="148" width="1" height="16" fill="#000"/>
<rect x="584" y="153" width="5" height="3" fill="#000"/>
<rect x="594" y="152" width="1" height="40" fill="#000"/>
<rect x="592" y="155" width="5" height="31" fill="#000"/>
<rect x="602" y="184" width="1" height="54" fill="#000"/>
<rect x="600" y="185" width="5" height="48" fill="#000"/>
<rect x="610" y="185" width="1" height="48" fill="#000"/>
<rect x="608" y="223" width="5" height="9" fill="#000"/>
<rect x="609" y="224" width="3" height="7" fill="#fff"/>
<rect x="618" y="217" width="1" height="44" fill="#000"/>
<rect x="616" y="222" width="5" height="12" fill="#000"/>
<rect x="626" y="211" width="1" height="27" fill="#000"/>
<rect x="624" y="227" width="5" height="5" fill="#000"/>
<rect x="625" y="228" width="3" height="3" fill="#fff"/>
<rect x="634" y="212" width="1" height="23" fill="#000"/>
<rect x="632" y="226" width="5" height="4" fill="#000"/>
<rect x="642" y="216" width="1" height="17" fill="#000"/>
<rect x="640" y="221" width="5" height="8" fill="#000"/>
<rect x="641" y="222" width="3" height="6" fill="#fff"/>
<rect x="650" y="216" width="1" height="72" fill="#000"/>
<rect x="648" y="221" width="5" height="63" fill="#000"/>
<rect x="658" y="273" width="1" height="27" fill="#000"/>
<rect x="656" y="283" width="5" height="9" fill="#000"/>
<rect x="666" y="258" width="1" height="25" fill="#000"/>
<rect x="664" y="275" width="5" height="5" fill="#000"/>
<rect x="665" y="276" width="3" height="3" fill="#fff"/>
<rect x="674" y="271" width="1" height="41" fill="#000"/>
<rect x="672" y="276" width="5" height="5" fill="#000"/>
<rect x="682" y="273" width="1" height="27" fill="#000"/>
<rect x="680" y="280" width="5" height="9" fill="#000"/>
<rect x="690" y="272" width="1" height="19" fill="#000"/>
<rect x="688" y="277" width="5" height="11" fill="#000"/>
<rect x="689" y="278" width="3" height="9" fill="#fff"/>
<rect x="698" y="276" width="1" height="43" fill="#000"/>
<rect x="696" y="277" width="5" height="19" fill="#000"/>
<rect x="706" y="288" width="1" height="17" fill="#000"/>
<rect x="704" y="295" width="5" height="4" fill="#000"/>
<rect x="714" y="298" width="1" height="14" fill="#000"/>
<rect x="712" y="298" width="5" height="11" fill="#000"/>
<rect x="722" y="288" width="1" height="24" fill="#000"/>
<rect x="720" y="299" width="5" height="9" fill="#000"/>
<rect x="721" y="300" width="3" height="7" fill="#fff"/>
<rect x="730" y="293" width="1" height="32" fill="#000"/>
<rect x="728" y="299" width="5" height="18" fill="#000"/>
<rect x="738" y="312" width="1" height="44" fill="#000"/>
<rect x="736" y="316" width="5" height="36" fill="#000"/>
<rect x="746" y="336" width="1" height="36" fill="#000"/>
<rect x="744" y="351" width="5" height="13" fill="#000"/>
<rect x="754" y="349" width="1" height="23" fill="#000"/>
<rect x="752" y="357" width="5" height="7" fill="#000"/>
<rect x="753" y="358" width="3" height="5" fill="#fff"/>
<rect x="762" y="344" width="1" height="18" fill="#000"/>
<rect x="760" y="356" width="5" height="2" fill="#000"/>
<rect x="770" y="343" width="1" height="18" fill="#000"/>
<rect x="768" y="345" width="5" height="13" fill="#000"/>
<rect x="769" y="346" width="3" height="11" fill="#fff"/>
<rect x="778" y="341" width="1" height="28" fill="#000"/>
<rect x="776" y="345" width="5" height="22" fill="#000"/>
<rect x="786" y="364" width="1" height="29" fill="#000"/>
<rect x="784" y="366" width="5" height="25" fill="#000"/>
<rect x="794" y="390" width="1" height="45" fill="#000"/>
<rect x="792" y="390" width="5" height="42" fill="#000"/>
<rect x="802" y="424" width="1" height="59" fill="#000"/>
<rect x="800" y="431" width="5" height="10" fill="#000"/>
<rect x="810" y="433" width="1" height="26" fill="#000"/>
<rect x="808" y="441" width="5" height="4" fill="#000"/>
<rect x="818" y="438" width="1" height="130" fill="#000"/>
<rect x="816" y="443" width="5" height="103" fill="#000"/>
<rect x="826" y="442" width="1" height="104" fill="#000"/>
<rect x="824" y="497" width="5" height="49" fill="#000"/>
<rect x="825" y="498" width="3" height="47" fill="#fff"/>
<rect x="834" y="457" width="1" height="44" fill="#000"/>
<rect x="832" y="463" width="5" height="34" fill="#000"/>
<rect x="833" y="464" width="3" height="32" fill="#fff"/>
<rect x="842" y="369" width="1" height="113" fill="#000"/>
<rect x="840" y="417" width="5" height="48" fill="#000"/>
<rect x="841" y="418" width="3" height="46" fill="#fff"/>
<rect x="850" y="403" width="1" height="65" fill="#000"/>
<rect x="848" y="417" width="5" height="45" fill="#000"/>
<rect x="858" y="455" width="1" height="45" fill="#000"/>
<rect x="856" y="461" width="5" height="5" fill="#000"/>
<rect x="866" y="392" width="1" height="89" fill="#000"/>
<rect x="864" y="410" width="5" height="55" fill="#000"/>
<rect x="865" y="411" width="3" height="53" fill="#fff"/>
<rect x="874" y="359" width="1" height="66" fill="#000"/>
<rect x="872" y="371" width="5" height="39" fill="#000"/>
<rect x="873" y="372" width="3" height="37" fill="#fff"/>
<rect x="882" y="368" width="1" height="36" fill="#000"/>
<rect x="880" y="371" width="5" height="31" fill="#000"/>
<rect x="890" y="388" width="1" height="53" fill="#000"/>
<rect x="888" y="401" width="5" height="23" fill="#000"/>
<rect x="898" y="417" width="1" height="32" fill="#000"/>
<rect x="896" y="423" width="5" height="16" fill="#000"/>
<rect x="906" y="450" width="1" height="32" fill="#000"/>
<rect x="904" y="461" width="5" height="16" fill="#000"/>
<rect x="905" y="462" width="3" height="14" fill="#fff"/>
<rect x="914" y="449" width="1" height="36" fill="#000"/>
<rect x="912" y="460" width="5" height="2" fill="#000"/>
<rect x="922" y="436" width="1" height="29" fill="#000"/>
<rect x="920" y="447" width="5" height="13" fill="#000"/>
<rect x="921" y="448" width="3" height="11" fill="#fff"/>
<rect x="930" y="442" width="1" height="33" fill="#000"/>
<rect x="928" y="446" width="5" height="28" fill="#000"/>
<rect x="938" y="421" width="1" height="53" fill="#000"/>
<rect x="936" y="461" width="5" height="13" fill="#000"/>
<rect x="937" y="462" width="3" height="11" fill="#fff"/>
<rect x="946" y="435" width="1" height="27" fill="#000"/>
<rect x="944" y="444" width="5" height="18" fill="#000"/>
<rect x="945" y="445" width="3" height="16" fill="#fff"/>
<rect x="954" y="403" width="1" height="43" fill="#000"/>
<rect x="952" y="407" width="5" height="38" fill="#000"/>
<rect x="953" y="408" width="3" height="36" fill="#fff"/>
<rect x="962" y="377" width="1" height="34" fill="#000"/>
<rect x="960" y="387" width="5" height="20" fill="#000"/>
<rect x="961" y="388" width="3" height="18" fill="#fff"/>
<rect x="970" y="364" width="1" height="39" fill="#000"/>
<rect x="968" y="376" width="5" height="12" fill="#000"/>
<rect x="969" y="377" width="3" height="10" fill="#fff"/>
<rect x="978" y="367" width="1" height="33" fill="#000"/>
<rect x="976" y="376" width="5" height="23" fill="#000"/>
<rect x="986" y="368" width="1" height="45" fill="#000"/>
<rect x="984" y="385" width="5" height="14" fill="#000"/>
<rect x="985" y="386" width="3" height="12" fill="#fff"/>
<rect x="994" y="380" width="1" height="22" fill="#000"/>
<rect x="992" y="384" width="5" height="2" fill="#000"/>
<rect x="1002" y="358" width="1" height="27" fill="#000"/>
<rect x="1000" y="367" width="5" height="17" fill="#000"/>
<rect x="1001" y="368" width="3" height="15" fill="#fff"/>
<rect x="1010" y="359" width="1" height="23" fill="#000"/>
<rect x="1008" y="361" width="5" height="7" fill="#000"/>
<rect x="1009" y="362" width="3" height="5" fill="#fff"/>
<rect x="1018" y="332" width="1" height="33" fill="#000"/>
<rect x="1016" y="335" width="5" height="26" fill="#000"/>
<rect x="1017" y="336" width="3" height="24" fill="#fff"/>
<rect x="1026" y="321" width="1" height="37" fill="#000"/>
<rect x="1024" y="335" width="5" height="16" fill="#000"/>
<rect x="1034" y="341" width="1" height="43" fill="#000"/>
<rect x="1032" y="350" width="5" height="24" fill="#000"/>
<rect x="1042" y="362" width="1" height="13" fill="#000"/>
<rect x="1040" y="369" width="5" height="5" fill="#000"/>
<rect x="1041" y="370" width="3" height="3" fill="#fff"/>
<rect x="1050" y="369" width="1" height="31" fill="#000"/>
<rect x="1048" y="369" width="5" height="27" fill="#000"/>
<rect x="1058" y="388" width="1" height="22" fill="#000"/>
<rect x="1056" y="389" width="5" height="7" fill="#000"/>
<rect x="1057" y="390" width="3" height="5" fill="#fff"/>
<rect x="1066" y="375" width="1" height="20" fill="#000"/>
<rect x="1064" y="376" width="5" height="13" fill="#000"/>
<rect x="1065" y="377" width="3" height="11" fill="#fff"/>
<rect x="1074" y="342" width="1" height="37" fill="#000"/>
<rect x="1072" y="355" width="5" height="23" fill="#000"/>
<rect x="1073" y="356" width="3" height="21" fill="#fff"/>
<rect x="1082" y="324" width="1" height="38" fill="#000"/>
<rect x="1080" y="331" width="5" height="24" fill="#000"/>
<rect x="1081" y="332" width="3" height="22" fill="#fff"/>
<rect x="1090" y="315" width="1" height="21" fill="#000"/>
<rect x="1088" y="324" width="5" height="8" fill="#000"/>
<rect x="1089" y="325" width="3" height="6" fill="#fff"/>
<rect x="1098" y="316" width="1" height="23" fill="#000"/>
<rect x="1096" y="319" width="5" height="5" fill="#000"/>
<rect x="1097" y="320" width="3" height="3" fill="#fff"/>
<rect x="1106" y="298" width="1" height="37" fill="#000"/>
<rect x="1104" y="303" width="5" height="16" fill="#000"/>
<rect x="1105" y="304" width="3" height="14" fill="#fff"/>
<rect x="1114" y="298" width="1" height="35" fill="#000"/>
<rect x="1112" y="304" width="5" height="20" fill="#000"/>
<rect x="1122" y="311" width="1" height="20" fill="#000"/>
<rect x="1120" y="323" width="5" height="5" fill="#000"/>
<rect x="1130" y="294" width="1" height="50" fill="#000"/>
<rect x="1128" y="298" width="5" height="29" fill="#000"/>
<rect x="1129" y="299" width="3" height="27" fill="#fff"/>
<rect x="1138" y="268" width="1" height="37" fill="#000"/>
<rect x="1136" y="269" width="5" height="30" fill="#000"/>
<rect x="1137" y="270" width="3" height="28" fill="#fff"/>
<rect x="1146" y="273" width="1" height="26" fill="#000"/>
<rect x="1144" y="277" width="5" height="19" fill="#000"/>
<rect x="1145" y="278" width="3" height="17" fill="#fff"/>
<rect x="1154" y="273" width="1" height="26" fill="#000"/>
<rect x="1152" y="276" width="5" height="18" fill="#000"/>
<rect x="1162" y="279" width="1" height="26" fill="#000"/>
<rect x="1160" y="293" width="5" height="2" fill="#000"/>
<rect x="1170" y="282" width="1" height="19" fill="#000"/>
<rect x="1168" y="294" width="5" height="5" fill="#000"/>
<rect x="1178" y="277" width="1" height="28" fill="#000"/>
<rect x="1176" y="290" width="5" height="9" fill="#000"/>
<rect x="1177" y="291" width="3" height="7" fill="#fff"/>
<rect x="1186" y="276" width="1" height="17" fill="#000"/>
<rect x="1184" y="279" width="5" height="12" fill="#000"/>
<rect x="1185" y="280" width="3" height="10" fill="#fff"/>
<rect x="1194" y="276" width="1" height="12" fill="#000"/>
<rect x="1192" y="279" width="5" height="3" fill="#000"/>
<rect x="1202" y="266" width="1" height="56" fill="#000"/>
<rect x="1200" y="277" width="5" height="3" fill="#000"/>
<rect x="1201" y="278" width="3" height="1" fill="#fff"/>
<rect x="1210" y="260" width="1" height="28" fill="#000"/>
<rect x="1208" y="277" width="5" height="4" fill="#000"/>
<rect x="1218" y="278" width="1" height="40" fill="#000"/>
<rect x="1216" y="280" width="5" height="26" fill="#000"/>
<rect x="1226" y="287" width="1" height="30" fill="#000"/>
<rect x="1224" y="293" width="5" height="13" fill="#000"/>
<rect x="1225" y="294" width="3" height="11" fill="#fff"/>
<rect x="1234" y="285" width="1" height="33" fill="#000"/>
<rect x="1232" y="287" width="5" height="6" fill="#000"/>
<rect x="1233" y="288" width="3" height="4" fill="#fff"/>
<rect x="1242" y="284" width="1" height="24" fill="#000"/>
<rect x="1240" y="286" width="5" height="8" fill="#000"/>
<rect x="1250" y="289" width="1" height="17" fill="#000"/>
<rect x="1248" y="292" width="5" height="8" fill="#000"/>
<rect x="1258" y="293" width="1" height="33" fill="#000"/>
<rect x="1256" y="299" width="5" height="24" fill="#000"/>
<rect x="1266" y="316" width="1" height="15" fill="#000"/>
<rect x="1264" y="322" width="5" height="4" fill="#000"/>
<rect x="1274" y="273" width="1" height="64" fill="#000"/>
<rect x="1272" y="306" width="5" height="20" fill="#000"/>
<rect x="1273" y="307" width="3" height="18" fill="#fff"/>
<rect x="1282" y="306" width="1" height="20" fill="#000"/>
<rect x="1280" y="306" width="5" height="14" fill="#000"/>
<rect x="1290" y="314" width="1" height="11" fill="#000"/>
<rect x="1288" y="314" width="5" height="6" fill="#000"/>
<rect x="1289" y="315" width="3" height="4" fill="#fff"/>
<rect x="1298" y="312" width="1" height="14" fill="#000"/>
<rect x="1296" y="315" width="5" height="1" fill="#000"/>
<rect x="1306" y="301" width="1" height="17" fill="#000"/>
<rect x="1304" y="306" width="5" height="12" fill="#000"/>
<rect x="1305" y="307" width="3" height="10" fill="#fff"/>
<rect x="1314" y="308" width="1" height="11" fill="#000"/>
<rect x="1312" y="309" width="5" height="9" fill="#000"/>
<rect x="1322" y="317" width="1" height="34" fill="#000"/>
<rect x="1320" y="317" width="5" height="17" fill="#000"/>
<rect x="1330" y="326" width="1" height="16" fill="#000"/>
<rect x="1328" y="329" width="5" height="5" fill="#000"/>
<rect x="1338" y="323" width="1" height="9" fill="#000"/>
<rect x="1336" y="327" width="5" height="2" fill="#000"/>
<rect x="1346" y="324" width="1" height="4" fill="#000"/>
<rect x="1344" y="325" width="5" height="3" fill="#000"/>
<rect x="1345" y="326" width="3" height="1" fill="#fff"/>
</g>
<rect x="1185" y="304" width="192" height="7" fill="#00ff00" shape-rendering="crispEdges"/>
<line x1="1202" y1="268" x2="1412" y2="371" stroke="#ff0000" stroke-width="3.2"/>
<polygon points="1419,374.5 1406.5,373.2 1410.8,364.4" fill="#ff0000"/>
<g transform="translate(1414.5,263)"><text x="3.3" y="1.3" font-size="32px" fill="#003c00" style="font-family:'Liberation Sans','Noto Sans CJK SC',sans-serif" textLength="160" lengthAdjust="spacingAndGlyphs">多空转折点</text><text x="2" y="0" font-size="32px" fill="#00ff00" style="font-family:'Liberation Sans','Noto Sans CJK SC',sans-serif" textLength="160" lengthAdjust="spacingAndGlyphs">多空转折点</text></g>
<g shape-rendering="crispEdges"><rect x="1467" y="307" width="8" height="1" fill="#ff0000"/><rect x="1474.5" y="305.5" width="2" height="3" fill="#fff" stroke="#ff0000" stroke-width="1"/>
<rect x="1477.5" y="295.5" width="73" height="24" fill="#fff" stroke="#ff0000" stroke-width="1"/></g>
<text x="1479" y="316" font-size="22px" fill="#ff0000" textLength="69.8" lengthAdjust="spacingAndGlyphs">0.61041</text>
<polygon points="1356,28 1366,28 1361,33" fill="#b4b4b4"/>
<text x="1609.0" y="53.0" font-size="9.8px" fill="#000" textLength="32.5" lengthAdjust="spacingAndGlyphs">0.66950</text>
<text x="1609.0" y="86.0" font-size="9.8px" fill="#000" textLength="32.5" lengthAdjust="spacingAndGlyphs">0.66210</text>
<text x="1609.0" y="119.0" font-size="9.8px" fill="#000" textLength="32.5" lengthAdjust="spacingAndGlyphs">0.65450</text>
<text x="1609.0" y="152.0" font-size="9.8px" fill="#000" textLength="32.5" lengthAdjust="spacingAndGlyphs">0.64690</text>
<text x="1609.0" y="185.0" font-size="9.8px" fill="#000" textLength="32.5" lengthAdjust="spacingAndGlyphs">0.63930</text>
<text x="1609.0" y="218.0" font-size="9.8px" fill="#000" textLength="32.5" lengthAdjust="spacingAndGlyphs">0.63170</text>
<text x="1609.0" y="251.0" font-size="9.8px" fill="#000" textLength="32.5" lengthAdjust="spacingAndGlyphs">0.62410</text>
<text x="1609.0" y="284.0" font-size="9.8px" fill="#000" textLength="32.5" lengthAdjust="spacingAndGlyphs">0.61650</text>
<text x="1609.0" y="317.0" font-size="9.8px" fill="#000" textLength="32.5" lengthAdjust="spacingAndGlyphs">0.60910</text>
<text x="1609.0" y="350.0" font-size="9.8px" fill="#000" textLength="32.5" lengthAdjust="spacingAndGlyphs">0.60150</text>
<text x="1609.0" y="383.0" font-size="9.8px" fill="#000" textLength="32.5" lengthAdjust="spacingAndGlyphs">0.59390</text>
<text x="1609.0" y="416.0" font-size="9.8px" fill="#000" textLength="32.5" lengthAdjust="spacingAndGlyphs">0.58630</text>
<text x="1609.0" y="449.0" font-size="9.8px" fill="#000" textLength="32.5" lengthAdjust="spacingAndGlyphs">0.57870</text>
<text x="1609.0" y="482.0" font-size="9.8px" fill="#000" textLength="31.9" lengthAdjust="spacingAndGlyphs">0.57110</text>
<text x="1609.0" y="515.0" font-size="9.8px" fill="#000" textLength="32.5" lengthAdjust="spacingAndGlyphs">0.56350</text>
<text x="1609.0" y="548.0" font-size="9.8px" fill="#000" textLength="32.5" lengthAdjust="spacingAndGlyphs">0.55610</text>
<text x="1609.0" y="581.0" font-size="9.8px" fill="#000" textLength="32.5" lengthAdjust="spacingAndGlyphs">0.54850</text>
<rect x="1605" y="246" width="42" height="10" fill="#ff0000" shape-rendering="crispEdges"/>
<text x="1609.0" y="254.4" font-size="9.8px" fill="#fff" textLength="32.5" lengthAdjust="spacingAndGlyphs">0.62324</text>
<rect x="1598.5" y="249.5" width="4" height="4" fill="#fff" stroke="#ff0000" stroke-width="1" shape-rendering="crispEdges"/>
<rect x="1605" y="271" width="42" height="10" fill="#ff0000" shape-rendering="crispEdges"/>
<text x="1609.0" y="279.4" font-size="9.8px" fill="#fff" textLength="32.5" lengthAdjust="spacingAndGlyphs">0.61751</text>
<rect x="1598.5" y="274.5" width="4" height="4" fill="#fff" stroke="#ff0000" stroke-width="1" shape-rendering="crispEdges"/>
<rect x="1605" y="302" width="42" height="10" fill="#ffa500" shape-rendering="crispEdges"/>
<text x="1609.0" y="310.4" font-size="9.8px" fill="#fff" textLength="32.5" lengthAdjust="spacingAndGlyphs">0.61041</text>
<rect x="1598.5" y="305.5" width="4" height="4" fill="#fff" stroke="#ffa500" stroke-width="1" shape-rendering="crispEdges"/>
<rect x="1605" y="320" width="42" height="10" fill="#000000" shape-rendering="crispEdges"/>
<text x="1609.0" y="328.4" font-size="9.8px" fill="#fff" textLength="32.5" lengthAdjust="spacingAndGlyphs">0.60637</text>
<rect x="1605" y="346" width="42" height="10" fill="#0000ff" shape-rendering="crispEdges"/>
<text x="1609.0" y="354.4" font-size="9.8px" fill="#fff" textLength="32.5" lengthAdjust="spacingAndGlyphs">0.60034</text>
<rect x="1598.5" y="349.5" width="4" height="4" fill="#fff" stroke="#0000ff" stroke-width="1" shape-rendering="crispEdges"/>
<rect x="1605" y="371" width="42" height="10" fill="#0000ff" shape-rendering="crispEdges"/>
<text x="1609.0" y="379.4" font-size="9.8px" fill="#fff" textLength="32.5" lengthAdjust="spacingAndGlyphs">0.59461</text>
<g shape-rendering="crispEdges" fill="#c0c0c0">
<rect x="2" y="634" width="1" height="10"/>
<rect x="10" y="634" width="1" height="11"/>
<rect x="18" y="634" width="1" height="11"/>
<rect x="26" y="634" width="1" height="12"/>
<rect x="34" y="634" width="1" height="12"/>
<rect x="42" y="634" width="1" height="12"/>
<rect x="50" y="634" width="1" height="12"/>
<rect x="58" y="634" width="1" height="13"/>
<rect x="66" y="634" width="1" height="14"/>
<rect x="74" y="634" width="1" height="14"/>
<rect x="82" y="634" width="1" height="14"/>
<rect x="90" y="634" width="1" height="15"/>
<rect x="98" y="634" width="1" height="15"/>
<rect x="106" y="634" width="1" height="15"/>
<rect x="114" y="634" width="1" height="16"/>
<rect x="122" y="634" width="1" height="16"/>
<rect x="130" y="634" width="1" height="16"/>
<rect x="138" y="634" width="1" height="16"/>
<rect x="146" y="634" width="1" height="17"/>
<rect x="154" y="634" width="1" height="18"/>
<rect x="162" y="634" width="1" height="19"/>
<rect x="170" y="634" width="1" height="20"/>
<rect x="178" y="634" width="1" height="20"/>
<rect x="186" y="634" width="1" height="18"/>
<rect x="194" y="634" width="1" height="18"/>
<rect x="202" y="634" width="1" height="17"/>
<rect x="210" y="634" width="1" height="17"/>
<rect x="218" y="634" width="1" height="16"/>
<rect x="226" y="634" width="1" height="15"/>
<rect x="234" y="634" width="1" height="14"/>
<rect x="242" y="634" width="1" height="11"/>
<rect x="250" y="634" width="1" height="8"/>
<rect x="258" y="634" width="1" height="6"/>
<rect x="266" y="634" width="1" height="2"/>
<rect x="274" y="634" width="1" height="1"/>
<rect x="282" y="632" width="1" height="3"/>
<rect x="290" y="631" width="1" height="4"/>
<rect x="298" y="630" width="1" height="5"/>
<rect x="306" y="628" width="1" height="7"/>
<rect x="314" y="626" width="1" height="9"/>
<rect x="322" y="625" width="1" height="10"/>
<rect x="330" y="624" width="1" height="11"/>
<rect x="338" y="624" width="1" height="11"/>
<rect x="346" y="623" width="1" height="12"/>
<rect x="354" y="623" width="1" height="12"/>
<rect x="362" y="624" width="1" height="11"/>
<rect x="370" y="624" width="1" height="11"/>
<rect x="378" y="624" width="1" height="11"/>
<rect x="386" y="624" width="1" height="11"/>
<rect x="394" y="624" width="1" height="11"/>
<rect x="402" y="624" width="1" height="11"/>
<rect x="410" y="624" width="1" height="11"/>
<rect x="418" y="625" width="1" height="10"/>
<rect x="426" y="625" width="1" height="10"/>
<rect x="434" y="632" width="1" height="3"/>
<rect x="442" y="634" width="1" height="1"/>
<rect x="450" y="634" width="1" height="1"/>
<rect x="458" y="632" width="1" height="3"/>
<rect x="466" y="633" width="1" height="2"/>
<rect x="474" y="633" width="1" height="2"/>
<rect x="482" y="634" width="1" height="1"/>
<rect x="490" y="634" width="1" height="2"/>
<rect x="498" y="634" width="1" height="4"/>
<rect x="506" y="634" width="1" height="10"/>
<rect x="514" y="634" width="1" height="14"/>
<rect x="522" y="634" width="1" height="16"/>
<rect x="530" y="634" width="1" height="17"/>
<rect x="538" y="634" width="1" height="17"/>
<rect x="546" y="634" width="1" height="16"/>
<rect x="554" y="634" width="1" height="16"/>
<rect x="562" y="634" width="1" height="18"/>
<rect x="570" y="634" width="1" height="19"/>
<rect x="578" y="634" width="1" height="20"/>
<rect x="586" y="634" width="1" height="23"/>
<rect x="594" y="634" width="1" height="27"/>
<rect x="602" y="634" width="1" height="37"/>
<rect x="610" y="634" width="1" height="42"/>
<rect x="618" y="634" width="1" height="48"/>
<rect x="626" y="634" width="1" height="50"/>
<rect x="634" y="634" width="1" height="51"/>
<rect x="642" y="634" width="1" height="51"/>
<rect x="650" y="634" width="1" height="58"/>
<rect x="658" y="634" width="1" height="65"/>
<rect x="666" y="634" width="1" height="67"/>
<rect x="674" y="634" width="1" height="69"/>
<rect x="682" y="634" width="1" height="70"/>
<rect x="690" y="634" width="1" height="69"/>
<rect x="698" y="634" width="1" height="67"/>
<rect x="706" y="634" width="1" height="67"/>
<rect x="714" y="634" width="1" height="69"/>
<rect x="722" y="634" width="1" height="69"/>
<rect x="730" y="634" width="1" height="69"/>
<rect x="738" y="634" width="1" height="72"/>
<rect x="746" y="634" width="1" height="76"/>
<rect x="754" y="634" width="1" height="77"/>
<rect x="762" y="634" width="1" height="77"/>
<rect x="770" y="634" width="1" height="75"/>
<rect x="778" y="634" width="1" height="75"/>
<rect x="786" y="634" width="1" height="76"/>
<rect x="794" y="634" width="1" height="83"/>
<rect x="802" y="634" width="1" height="88"/>
<rect x="810" y="634" width="1" height="91"/>
<rect x="818" y="634" width="1" height="106"/>
<rect x="826" y="634" width="1" height="110"/>
<rect x="834" y="634" width="1" height="107"/>
<rect x="842" y="634" width="1" height="98"/>
<rect x="850" y="634" width="1" height="95"/>
<rect x="858" y="634" width="1" height="92"/>
<rect x="866" y="634" width="1" height="83"/>
<rect x="874" y="634" width="1" height="70"/>
<rect x="882" y="634" width="1" height="62"/>
<rect x="890" y="634" width="1" height="58"/>
<rect x="898" y="634" width="1" height="56"/>
<rect x="906" y="634" width="1" height="56"/>
<rect x="914" y="634" width="1" height="56"/>
<rect x="922" y="634" width="1" height="54"/>
<rect x="930" y="634" width="1" height="54"/>
<rect x="938" y="634" width="1" height="53"/>
<rect x="946" y="634" width="1" height="49"/>
<rect x="954" y="634" width="1" height="41"/>
<rect x="962" y="634" width="1" height="32"/>
<rect x="970" y="634" width="1" height="22"/>
<rect x="978" y="634" width="1" height="18"/>
<rect x="986" y="634" width="1" height="12"/>
<rect x="994" y="634" width="1" height="8"/>
<rect x="1002" y="634" width="1" height="1"/>
<rect x="1010" y="632" width="1" height="3"/>
<rect x="1018" y="624" width="1" height="11"/>
<rect x="1026" y="620" width="1" height="15"/>
<rect x="1034" y="620" width="1" height="15"/>
<rect x="1042" y="620" width="1" height="15"/>
<rect x="1050" y="623" width="1" height="12"/>
<rect x="1058" y="625" width="1" height="10"/>
<rect x="1066" y="625" width="1" height="10"/>
<rect x="1074" y="623" width="1" height="12"/>
<rect x="1082" y="618" width="1" height="17"/>
<rect x="1090" y="613" width="1" height="22"/>
<rect x="1098" y="609" width="1" height="26"/>
<rect x="1106" y="605" width="1" height="30"/>
<rect x="1114" y="604" width="1" height="31"/>
<rect x="1122" y="604" width="1" height="31"/>
<rect x="1130" y="601" width="1" height="34"/>
<rect x="1138" y="595" width="1" height="40"/>
<rect x="1146" y="592" width="1" height="43"/>
<rect x="1154" y="592" width="1" height="43"/>
<rect x="1162" y="593" width="1" height="42"/>
<rect x="1170" y="594" width="1" height="41"/>
<rect x="1178" y="595" width="1" height="40"/>
<rect x="1186" y="595" width="1" height="40"/>
<rect x="1194" y="594" width="1" height="41"/>
<rect x="1202" y="595" width="1" height="40"/>
<rect x="1210" y="596" width="1" height="39"/>
<rect x="1218" y="601" width="1" height="34"/>
<rect x="1226" y="603" width="1" height="32"/>
<rect x="1234" y="605" width="1" height="30"/>
<rect x="1242" y="607" width="1" height="28"/>
<rect x="1250" y="610" width="1" height="25"/>
<rect x="1258" y="615" width="1" height="20"/>
<rect x="1266" y="620" width="1" height="15"/>
<rect x="1274" y="622" width="1" height="13"/>
<rect x="1282" y="625" width="1" height="10"/>
<rect x="1290" y="626" width="1" height="9"/>
<rect x="1298" y="628" width="1" height="7"/>
<rect x="1306" y="629" width="1" height="6"/>
<rect x="1314" y="630" width="1" height="5"/>
<rect x="1322" y="634" width="1" height="1"/>
<rect x="1330" y="634" width="1" height="1"/>
<rect x="1338" y="634" width="1" height="2"/>
<rect x="1346" y="634" width="1" height="2"/>
</g>
<polyline points="0.0,650.5 35.6,648.0 51.0,646.2 84.0,646.7 114.5,648.0 170.5,648.5 178.0,650.0 211.0,651.3 236.7,651.3 254.5,648.0 275.0,642.9 295.0,637.8 315.6,632.7 331.0,628.9 353.8,624.6 415.0,624.6 438.0,626.4 463.6,628.9 486.5,631.4 501.8,635.3 522.0,637.8 532.3,641.6 552.7,646.7 570.5,650.5 593.4,652.6 603.6,656.9 613.8,658.9 629.0,667.1 649.4,676.0 659.6,682.4 674.9,690.0 690.0,695.1 713.0,701.9 730.9,703.2 756.3,705.3 786.9,707.8 797.0,710.9 810.0,714.2 825.5,720.5 833.0,722.6 842.0,727.7 851.0,729.4 861.0,731.5 871.3,730.2 881.4,726.1 889.0,721.3 901.8,712.1 914.5,703.5 927.3,696.4 940.0,691.8 952.7,688.2 970.5,682.4 983.3,673.4 998.5,664.0 1016.3,650.0 1029.0,639.9 1041.8,632.2 1057.0,626.4 1080.0,621.8 1095.2,620.0 1110.5,616.2 1123.2,613.6 1133.4,609.1 1146.1,604.2 1156.3,600.4 1166.5,597.9 1181.8,595.8 1197.0,594.0 1212.3,593.8 1220.4,594.0 1230.5,597.1 1245.8,598.4 1263.6,603.5 1276.4,609.1 1289.0,613.1 1299.3,617.5 1317.0,622.5 1332.4,628.4 1346.4,630.7" fill="none" stroke="#ff0000" stroke-width="1" stroke-dasharray="3,3" shape-rendering="crispEdges"/>
<text x="-1.0" y="595.0" font-size="9.8px" fill="#000" textLength="150.0" lengthAdjust="spacingAndGlyphs">MACD(12,26,9) -0.000379 0.000564</text>
<text x="1607.0" y="593.0" font-size="9.8px" fill="#000" textLength="37.5" lengthAdjust="spacingAndGlyphs">0.007363</text>
<text x="1607.0" y="637.7" font-size="9.8px" fill="#000" textLength="17.5" lengthAdjust="spacingAndGlyphs">0.00</text>
<text x="1607.0" y="749.2" font-size="9.8px" fill="#000" textLength="35.5" lengthAdjust="spacingAndGlyphs">-0.01696</text>
<g shape-rendering="crispEdges" stroke="#c0c0c0" stroke-width="1" stroke-dasharray="3,3">
<line x1="1" y1="790.5" x2="1601" y2="790.5"/>
<line x1="1" y1="841.5" x2="1601" y2="841.5"/>
<line x1="1" y1="902.5" x2="1601" y2="902.5"/>
</g>
<g shape-rendering="crispEdges"><rect x="1603" y="790" width="1" height="1" fill="#fff"/><rect x="1603" y="841" width="1" height="1" fill="#fff"/><rect x="1603" y="902" width="1" height="1" fill="#fff"/></g>
<polyline points="2.5,850.0 10.0,854.9 18.3,860.2 26.5,855.1 34.4,857.4 42.5,854.4 50.4,856.4 58.5,867.8 66.4,871.7 74.3,876.2 82.5,874.2 90.4,878.5 98.5,869.6 106.4,865.0 114.5,856.1 122.4,854.4 130.6,848.2 138.5,851.8 146.3,872.2 154.5,874.2 162.4,882.9 170.3,892.5 178.4,858.2 186.3,860.2 194.5,855.6 202.3,848.2 210.5,853.1 218.4,856.4 226.5,850.0 234.4,843.7 242.6,842.1 250.4,842.1 258.3,835.8 266.5,816.2 274.4,828.4 282.5,834.0 290.4,827.1 298.5,827.1 306.4,821.5 314.3,822.5 322.5,826.4 330.4,821.8 338.5,825.8 346.4,822.5 354.3,828.9 362.4,835.3 370.3,841.1 378.5,831.4 386.4,840.6 394.5,830.9 402.5,822.5 410.4,830.7 418.6,827.1 426.5,837.0 434.4,865.3 442.5,854.9 450.4,840.4 458.5,828.4 466.4,843.7 474.3,842.1 482.5,846.2 490.4,851.3 498.5,851.3 506.4,867.3 514.5,863.3 522.4,860.2 530.6,855.1 538.5,853.1 546.3,851.3 554.5,854.4 562.4,860.2 570.5,862.2 578.4,866.3 586.3,867.3 594.5,879.8 602.3,892.5 610.5,885.4 618.4,887.4 626.5,882.4 634.4,883.4 642.6,876.2 650.4,891.3 658.3,893.3 666.5,882.4 674.4,883.4 682.5,885.4 690.4,877.3 698.6,882.4 706.4,883.4 714.3,886.4 722.5,878.3 730.4,883.4 738.5,891.3 746.4,893.3 754.3,888.5 762.4,888.5 770.3,879.3 778.5,884.4 786.4,889.5 794.5,896.4 802.4,898.4 810.5,898.4 818.4,908.3 826.5,884.9 834.4,872.2 842.5,857.4 850.4,865.3 858.5,866.6 866.4,851.0 874.3,841.1 882.5,847.2 890.4,852.3 898.5,855.4 906.4,859.4 914.5,859.4 922.4,855.1 930.6,861.2 938.5,857.4 946.3,851.3 954.5,841.1 962.4,834.8 970.5,833.2 978.4,839.6 986.3,836.5 994.5,835.3 1002.3,831.4 1010.5,829.4 1018.4,822.5 1026.5,828.9 1034.4,836.5 1042.6,835.3 1050.4,844.4 1058.3,842.1 1066.5,837.8 1074.4,830.9 1082.5,823.8 1090.4,822.0 1098.6,820.2 1106.4,816.2 1114.3,825.1 1122.5,827.6 1130.4,818.7 1138.5,811.1 1146.4,815.2 1154.3,822.3 1162.4,823.6 1170.3,825.6 1178.5,822.5 1186.4,818.2 1194.5,819.2 1202.4,818.2 1210.5,820.0 1218.4,836.5 1226.5,830.9 1234.4,827.1 1242.5,831.4 1250.4,835.3 1258.5,847.2 1266.4,848.2 1274.3,838.3 1282.5,845.4 1290.4,842.1 1298.5,843.7 1306.4,838.3 1314.5,844.4 1322.4,852.3 1330.6,849.3 1338.5,848.2 1346.3,847.2" fill="none" stroke="#1e90ff" stroke-width="1" shape-rendering="crispEdges"/>
<text x="-2.0" y="767.0" font-size="9.8px" fill="#000" textLength="67.7" lengthAdjust="spacingAndGlyphs">RSI(14) 47.0452</text>
<text x="1606.2" y="765.2" font-size="9.8px" fill="#000" textLength="15.0" lengthAdjust="spacingAndGlyphs">100</text>
<text x="1606.2" y="794.2" font-size="9.8px" fill="#000" textLength="10.0" lengthAdjust="spacingAndGlyphs">80</text>
<text x="1606.2" y="845.2" font-size="9.8px" fill="#000" textLength="10.0" lengthAdjust="spacingAndGlyphs">50</text>
<text x="1606.2" y="906.2" font-size="9.8px" fill="#000" textLength="10.0" lengthAdjust="spacingAndGlyphs">15</text>
<text x="1606.2" y="924.7" font-size="9.8px" fill="#000" textLength="5.0" lengthAdjust="spacingAndGlyphs">0</text>
<text x="-6.6" y="941.2" font-size="9.8px" fill="#000" textLength="52.1" lengthAdjust="spacingAndGlyphs">24 Feb 2020</text>
<text x="57.4" y="941.2" font-size="9.8px" fill="#000" textLength="54.6" lengthAdjust="spacingAndGlyphs">26 Feb 04:00</text>
<text x="121.4" y="941.2" font-size="9.8px" fill="#000" textLength="54.6" lengthAdjust="spacingAndGlyphs">27 Feb 12:00</text>
<text x="185.4" y="941.2" font-size="9.8px" fill="#000" textLength="49.5" lengthAdjust="spacingAndGlyphs">1 Mar 23:00</text>
<text x="249.4" y="941.2" font-size="9.8px" fill="#000" textLength="49.5" lengthAdjust="spacingAndGlyphs">3 Mar 04:00</text>
<text x="313.4" y="941.2" font-size="9.8px" fill="#000" textLength="49.5" lengthAdjust="spacingAndGlyphs">4 Mar 12:00</text>
<text x="377.4" y="941.2" font-size="9.8px" fill="#000" textLength="49.5" lengthAdjust="spacingAndGlyphs">5 Mar 20:00</text>
<text x="441.4" y="941.2" font-size="9.8px" fill="#000" textLength="49.5" lengthAdjust="spacingAndGlyphs">9 Mar 04:00</text>
<text x="505.4" y="941.2" font-size="9.8px" fill="#000" textLength="54.6" lengthAdjust="spacingAndGlyphs">10 Mar 12:00</text>
<text x="569.4" y="941.2" font-size="9.8px" fill="#000" textLength="53.9" lengthAdjust="spacingAndGlyphs">11 Mar 20:00</text>
<text x="633.4" y="941.2" font-size="9.8px" fill="#000" textLength="54.6" lengthAdjust="spacingAndGlyphs">13 Mar 04:00</text>
<text x="697.4" y="941.2" font-size="9.8px" fill="#000" textLength="54.6" lengthAdjust="spacingAndGlyphs">16 Mar 12:00</text>
<text x="761.4" y="941.2" font-size="9.8px" fill="#000" textLength="54.6" lengthAdjust="spacingAndGlyphs">17 Mar 20:00</text>
<text x="825.4" y="941.2" font-size="9.8px" fill="#000" textLength="54.6" lengthAdjust="spacingAndGlyphs">19 Mar 04:00</text>
<text x="889.4" y="941.2" font-size="9.8px" fill="#000" textLength="54.6" lengthAdjust="spacingAndGlyphs">20 Mar 12:00</text>
<text x="953.4" y="941.2" font-size="9.8px" fill="#000" textLength="54.6" lengthAdjust="spacingAndGlyphs">23 Mar 20:00</text>
<text x="1017.4" y="941.2" font-size="9.8px" fill="#000" textLength="54.6" lengthAdjust="spacingAndGlyphs">25 Mar 04:00</text>
<text x="1081.4" y="941.2" font-size="9.8px" fill="#000" textLength="54.6" lengthAdjust="spacingAndGlyphs">26 Mar 12:00</text>
<text x="1145.4" y="941.2" font-size="9.8px" fill="#000" textLength="54.6" lengthAdjust="spacingAndGlyphs">29 Mar 23:00</text>
<text x="1209.4" y="941.2" font-size="9.8px" fill="#000" textLength="54.6" lengthAdjust="spacingAndGlyphs">31 Mar 04:00</text>
<text x="1273.4" y="941.2" font-size="9.8px" fill="#000" textLength="47.4" lengthAdjust="spacingAndGlyphs">1 Apr 12:00</text>
<text x="1337.4" y="941.2" font-size="9.8px" fill="#000" textLength="47.4" lengthAdjust="spacingAndGlyphs">2 Apr 20:00</text>
<polygon points="0,33 0,37.5 4.5,37.5" fill="#000"/>
<text x="9.6" y="39.2" font-size="9.8px" fill="#000" textLength="57.7" lengthAdjust="spacingAndGlyphs">AUDUSD-,H4</text>
<text x="74.0" y="39.2" font-size="9.8px" fill="#000" textLength="32.8" lengthAdjust="spacingAndGlyphs">0.60575</text>
<text x="109.8" y="39.2" font-size="9.8px" fill="#000" textLength="32.8" lengthAdjust="spacingAndGlyphs">0.60642</text>
<text x="145.9" y="39.2" font-size="9.8px" fill="#000" textLength="32.8" lengthAdjust="spacingAndGlyphs">0.60575</text>
<text x="181.9" y="39.2" font-size="9.8px" fill="#000" textLength="32.8" lengthAdjust="spacingAndGlyphs">0.60637</text>
<g>
<rect x="0" y="47" width="216" height="64" fill="#fff"/>
<rect x="0" y="47" width="49" height="25" fill="url(#gSell)"/><rect x="-1" y="47.5" width="49.5" height="25" fill="none" stroke="#2a2ad2" stroke-width="1"/>
<rect x="164" y="47" width="52" height="25" fill="url(#gSell)"/><rect x="164.5" y="47.5" width="51" height="25" fill="none" stroke="#2a2ad2" stroke-width="1"/>
<rect x="0" y="71" width="106" height="40" fill="url(#gPrice)"/>
<rect x="108" y="71" width="108" height="40" fill="url(#gPrice)"/>
<rect x="1" y="69.6" width="44" height="0.9" fill="#1c1c9c"/><rect x="1" y="70.5" width="44" height="1" fill="#8e8eff"/>
<rect x="168" y="69.6" width="44" height="0.9" fill="#1c1c9c"/><rect x="168" y="70.5" width="44" height="1" fill="#8e8eff"/>
<g shape-rendering="crispEdges">
<rect x="51.5" y="47.5" width="110" height="21" fill="#fff" stroke="#a6a6a6" stroke-width="1"/>
<rect x="53" y="49" width="19" height="18" fill="url(#gBtn)"/>
<rect x="72" y="48" width="1" height="20" fill="#b4b4b4"/>
<rect x="141" y="49" width="19" height="18" fill="url(#gBtn)"/>
<rect x="140" y="48" width="1" height="20" fill="#b4b4b4"/>
</g>
<polygon points="59,56 64.5,56 61.75,59.2" fill="#4d63c4"/>
<polygon points="147.3,59 152.8,59 150.05,55.8" fill="#4d63c4"/>
<text x="136.8" y="62.3" font-size="12px" fill="#111" text-anchor="end">1.00</text>
<text x="9.7" y="63" font-size="12.4px" fill="#fff" textLength="25.4" lengthAdjust="spacingAndGlyphs">SELL</text>
<text x="177.3" y="63" font-size="12.4px" fill="#fff" textLength="23.7" lengthAdjust="spacingAndGlyphs">BUY</text>
<text x="17" y="101.7" font-size="11.5px" font-weight="bold" fill="#fff" textLength="23.6" lengthAdjust="spacingAndGlyphs">0.60</text>
<text x="44.6" y="102" font-size="33px" fill="#fff" textLength="34" lengthAdjust="spacingAndGlyphs">63</text>
<text x="84" y="85.5" font-size="11.5px" font-weight="bold" fill="#fff">7</text>
<text x="127" y="101.7" font-size="11.5px" font-weight="bold" fill="#fff" textLength="23.6" lengthAdjust="spacingAndGlyphs">0.60</text>
<text x="155.2" y="102" font-size="33px" fill="#fff" textLength="36" lengthAdjust="spacingAndGlyphs">66</text>
<text x="195.2" y="85.5" font-size="11.5px" font-weight="bold" fill="#fff">6</text>
</g>
</svg></body></html>
